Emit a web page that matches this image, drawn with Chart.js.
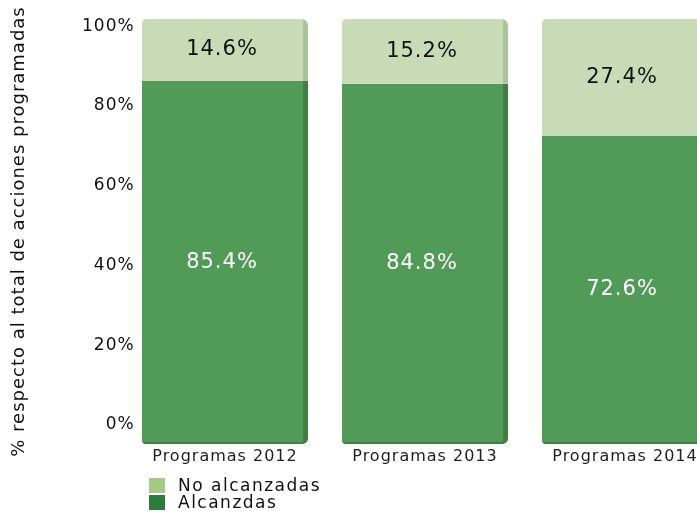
<!DOCTYPE html>
<html>
<head>
<meta charset="utf-8">
<script src="https://cdn.jsdelivr.net/npm/chart.js@4/dist/chart.umd.min.js"></script>
<style>
  html, body { margin: 0; padding: 0; background: #fff; overflow: hidden; }
  #wrap { position: relative; width: 730px; height: 512px; }
  #legend { position: absolute; left: 149px; top: 477px; font-family: "DejaVu Sans", sans-serif; font-size: 17px; color: #111; line-height: 17px; letter-spacing: 1.5px; }
  #legend div { display: flex; align-items: center; }
  #legend span.box { display: inline-block; width: 16px; height: 15px; margin-right: 13px; }
</style>
</head>
<body>
<div id="wrap">
  <canvas id="chart" width="730" height="512"></canvas>
  <div id="legend"></div>
</div>
<script>
// datos
const categorias = ['Programas 2012', 'Programas 2013', 'Programas 2014'];
const alcanzadas = [85.4, 84.8, 72.6];
const noAlcanzadas = [14.6, 15.2, 27.4];
const etiquetasY = [0, 20, 40, 60, 80, 100];
const nombresSeries = ['No alcanzadas', 'Alcanzdas'];

const colorOscuro = '#529a57';
const colorClaro = '#c9dbb6';

// etiquetas de porcentaje dentro de cada barra
const valoresPlugin = {
    id: 'valores',
    afterDatasetsDraw(chart) {
        const ctx = chart.ctx;
        ctx.save();
        ctx.font = '21px "DejaVu Sans"';
        ctx.textAlign = 'center';
        ctx.textBaseline = 'middle';
        chart.data.datasets.forEach((ds, i) => {
            const meta = chart.getDatasetMeta(i);
            meta.data.forEach((bar, j) => {
                const p = bar.getProps(['x', 'y', 'base'], true);
                ctx.fillStyle = i === 0 ? '#ffffff' : '#111111';
                ctx.fillText(ds.data[j].toFixed(1) + '%', p.x - 3, (p.y + p.base) / 2);
            });
        });
        ctx.restore();
    }
};

const espaciado = {
    id: 'espaciado',
    beforeInit(chart) { chart.ctx.letterSpacing = '1px'; },
    beforeUpdate(chart) { chart.ctx.letterSpacing = '1px'; },
    beforeDraw(chart) { chart.ctx.letterSpacing = '1px'; }
};

const ctx = document.getElementById('chart').getContext('2d');
const chart = new Chart(ctx, {
    type: 'bar',
    data: {
        labels: categorias,
        datasets: [{
            label: nombresSeries[1],
            data: alcanzadas,
            backgroundColor: colorOscuro,
            borderColor: '#3f7f45',
            borderWidth: { right: 5, bottom: 2 },
            borderSkipped: false,
            borderRadius: { bottomLeft: 3, bottomRight: 5 },
            barPercentage: 0.83,
            categoryPercentage: 1
        }, {
            label: nombresSeries[0],
            data: noAlcanzadas,
            backgroundColor: colorClaro,
            borderColor: '#a9c49a',
            borderWidth: { right: 5 },
            borderSkipped: false,
            borderRadius: { topLeft: 4, topRight: 6 },
            barPercentage: 0.83,
            categoryPercentage: 1
        }]
    },
    options: {
        responsive: false,
        animation: false,
        layout: { padding: { top: 19, right: 5, bottom: 0, left: 0 } },
        plugins: {
            legend: { display: false },
            tooltip: { enabled: false }
        },
        scales: {
            x: {
                stacked: true,
                grid: { display: false },
                border: { display: false },
                afterFit(axis) { axis.height = 68; },
                ticks: {
                    color: '#222',
                    font: { family: 'DejaVu Sans', size: 16, lineHeight: 1 },
                    padding: -3
                }
            },
            y: {
                stacked: true,
                display: false,
                min: 0,
                max: 100
            },
            yEtiquetas: {
                position: 'left',
                min: -4.8,
                max: 101.8,
                grid: { display: false },
                border: { display: false },
                afterFit(axis) { axis.width = 125; },
                afterBuildTicks(axis) {
                    axis.ticks = etiquetasY.map(v => ({ value: v }));
                },
                ticks: {
                    color: '#111',
                    font: { family: 'DejaVu Sans', size: 17 },
                    mirror: true,
                    crossAlign: 'far',
                    padding: -43,
                    callback: v => v + '%'
                },
                title: {
                    display: true,
                    text: '% respecto al total de acciones programadas',
                    color: '#111',
                    font: { family: 'DejaVu Sans', size: 18 },
                    padding: { top: 9, bottom: 0 }
                }
            }
        }
    },
    plugins: [valoresPlugin, espaciado]
});

// leyenda vertical
const leyenda = document.getElementById('legend');
[['#a3cb86', nombresSeries[0]], ['#2f7a3e', nombresSeries[1]]].forEach(([c, t]) => {
    const fila = document.createElement('div');
    fila.innerHTML = '<span class="box" style="background:' + c + '"></span>' + t;
    leyenda.appendChild(fila);
});
</script>
</body>
</html>
